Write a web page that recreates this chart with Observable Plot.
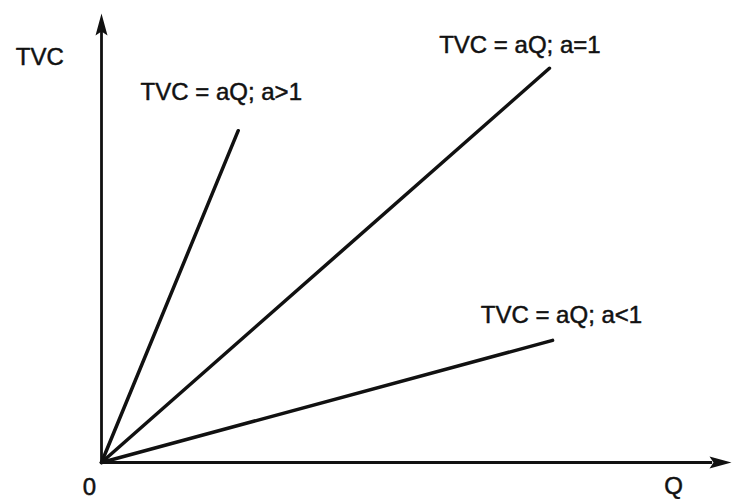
<!DOCTYPE html>
<html>
<head>
<meta charset="utf-8">
<script src="https://cdn.jsdelivr.net/npm/d3@7"></script>
<script src="https://cdn.jsdelivr.net/npm/@observablehq/plot@0.6"></script>
<style>
  html, body { margin: 0; padding: 0; background: #fff; }
  #chart svg { display: block; }
</style>
</head>
<body>
<div id="chart"></div>
<script>
// Series: TVC = aQ for three values of a (straight lines from origin)
const seriesNames = ["a>1", "a=1", "a<1"];
const endQ = [21.7, 71.1, 71.6];
const endTVC = [73.9, 87.8, 27.2];

// Line labels
const labelText = ["TVC = aQ; a>1", "TVC = aQ; a=1", "TVC = aQ; a<1"];
const labelQ = [6.2, 53.6, 60.2];
const labelTVC = [82.4, 92.9, 32.7];

// Axis labels
const axisText = ["TVC", "0", "Q"];
const axisQ = [-13.6, -1.9, 90.8];
const axisTVC = [90.2, -5.6, -5.3];
const axisAnchor = ["start", "middle", "middle"];

const lineData = seriesNames.flatMap((s, i) => [
  {series: s, q: 0, tvc: 0},
  {series: s, q: endQ[i], tvc: endTVC[i]}
]);
const labels = labelText.map((t, i) => ({text: t, q: labelQ[i], tvc: labelTVC[i]}));
const axisLabels = axisText.map((t, i) => ({text: t, q: axisQ[i], tvc: axisTVC[i], anchor: axisAnchor[i]}));

// Elongated filled arrowhead, tip at the anchor point, pointing up
const arrowHead = {
  draw(context) {
    context.moveTo(0, 0);
    context.lineTo(-6, 22);
    context.lineTo(0, 18);
    context.lineTo(6, 22);
    context.closePath();
  }
};

const ink = "#111";
const textStyle = {fontSize: 24, fill: ink, stroke: ink, strokeWidth: 0.5, clip: false};
const chart = Plot.plot({
  width: 732,
  height: 499,
  marginLeft: 101,
  marginRight: 1,
  marginTop: 13,
  marginBottom: 37,
  x: {domain: [0, 100], axis: null},
  y: {domain: [0, 100], axis: null},
  style: {fontFamily: "'Liberation Sans', Arial, sans-serif", background: "#fff", color: ink},
  marks: [
    // axes
    Plot.ruleY([0], {x1: 0, x2: 97, stroke: ink, strokeWidth: 2.8}),
    Plot.ruleX([0], {y1: 0, y2: 96, stroke: ink, strokeWidth: 2.8}),
    Plot.dot([{q: 100, tvc: 0}], {x: "q", y: "tvc", symbol: arrowHead, fill: ink, stroke: null, rotate: 90, r: 5}),
    Plot.dot([{q: 0, tvc: 100}], {x: "q", y: "tvc", symbol: arrowHead, fill: ink, stroke: null, rotate: 0, r: 5}),
    // TVC lines
    Plot.line(lineData, {x: "q", y: "tvc", z: "series", stroke: ink, strokeWidth: 3.5, strokeLinecap: "round"}),
    // labels
    Plot.text(labels, {x: "q", y: "tvc", text: "text", textAnchor: "start", ...textStyle}),
    Plot.text(axisLabels, {x: "q", y: "tvc", text: "text", textAnchor: "start", ...textStyle, filter: d => d.anchor === "start"}),
    Plot.text(axisLabels, {x: "q", y: "tvc", text: "text", textAnchor: "middle", ...textStyle, filter: d => d.anchor === "middle"})
  ]
});
document.getElementById("chart").appendChild(chart);
</script>
</body>
</html>
